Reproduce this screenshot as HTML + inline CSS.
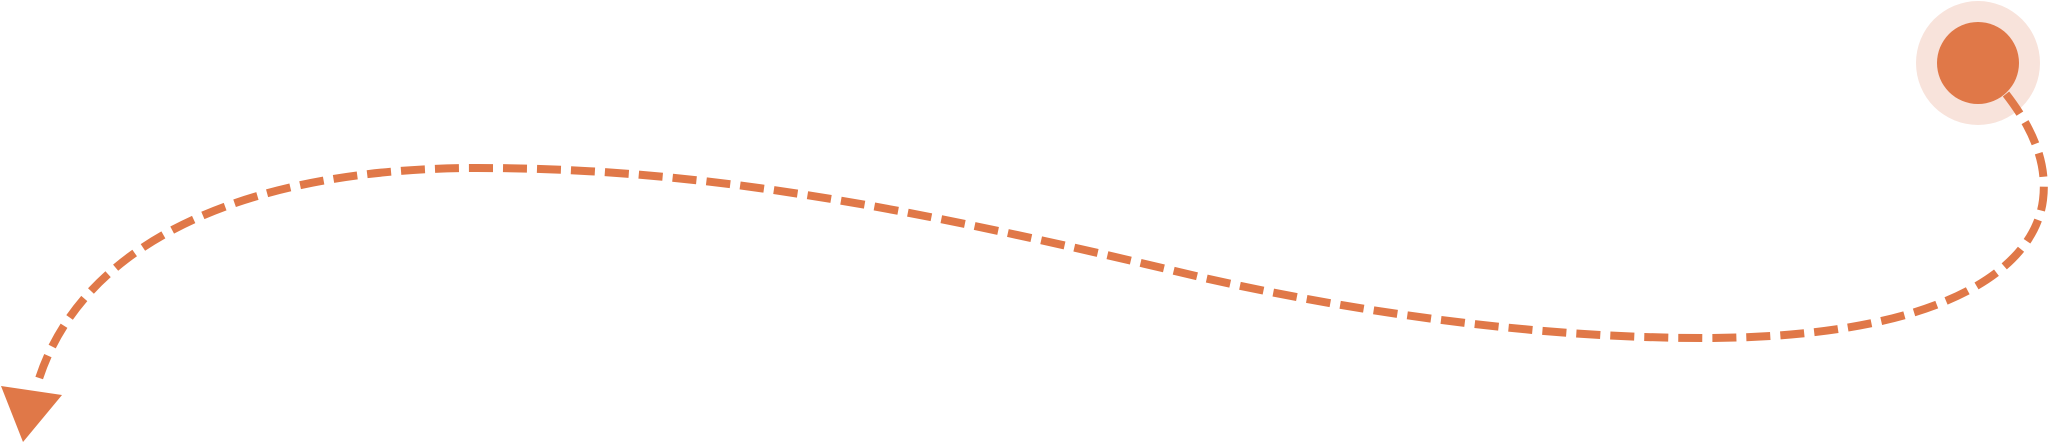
<!DOCTYPE html>
<html><head><meta charset="utf-8"><style>
html,body{margin:0;padding:0;background:#fff;width:2048px;height:443px;overflow:hidden}
svg{display:block}
</style></head><body>
<svg width="2048" height="443" viewBox="0 0 2048 443" xmlns="http://www.w3.org/2000/svg">
<circle cx="1978" cy="63" r="62" fill="#F8E3DB"/>
<circle cx="1978" cy="63" r="41" fill="#E07848"/>
<path d="M2006,94 C2030,125 2048,160 2043,200 C2035,265 1950,338 1703,338 C1500,338 1300,300 1200,277 C900,205 700,168 477,168 C250,168 80,240 37,385" fill="none" stroke="#E07848" stroke-width="8" stroke-dasharray="24 10"/>
<polygon points="1,386 62,395 23,442" fill="#E07848"/>
</svg>
</body></html>
